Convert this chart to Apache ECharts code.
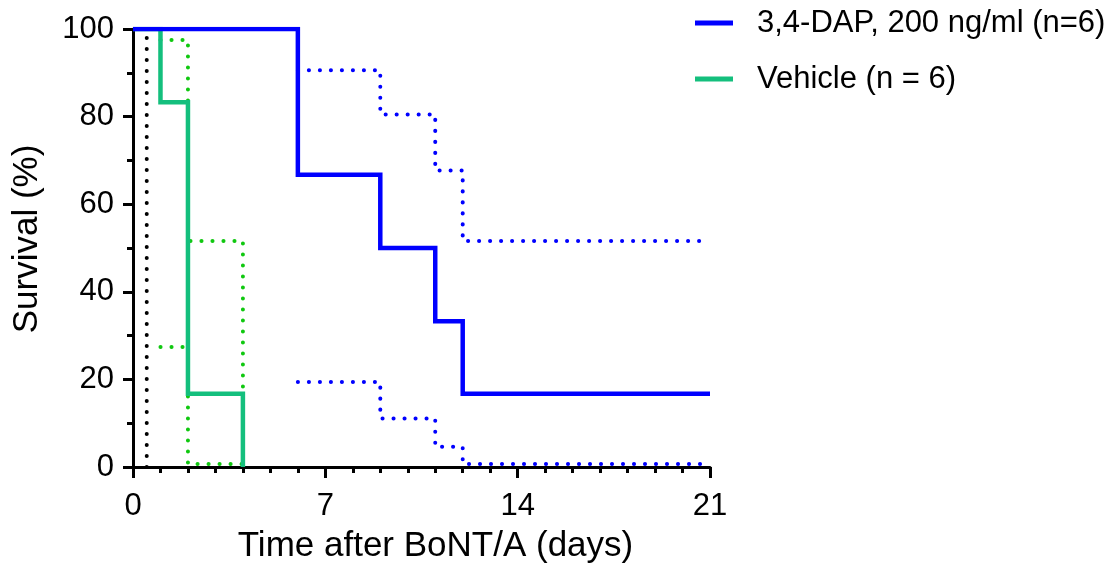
<!DOCTYPE html>
<html>
<head>
<meta charset="utf-8">
<script src="https://cdn.jsdelivr.net/npm/echarts@6/dist/echarts.min.js"></script>
<style>
  html, body { margin: 0; padding: 0; background: #fff; }
  #chart { width: 1112px; height: 580px; }
</style>
</head>
<body>
<div id="chart"></div>
<script>
// Kaplan–Meier survival after BoNT/A exposure
const xTicks = [0, 7, 14, 21];
const yTicks = [0, 20, 40, 60, 80, 100];

const seriesNames = ['3,4-DAP, 200 ng/ml (n=6)', 'Vehicle (n = 6)'];

// 3,4-DAP group: step times (days) and survival (%)
const dapDays = [0, 6, 9, 11, 12, 21];
const dapSurvival = [100, 66.7, 50, 33.3, 16.7, 16.7];
// 95% confidence band of the 3,4-DAP curve
const dapCiDays = [6, 9, 11, 12, 21];
const dapUpper = [90.6, 80.5, 67.7, 51.6, 51.6];
const dapLower = [19.4, 11.1, 4.6, 0.7, 0.7];

// Vehicle group
const vehDays = [0, 1, 2, 4];
const vehSurvival = [100, 83.3, 16.7, 0];
const vehCiDays = [1, 2, 4];
const vehUpper = [97.5, 51.6, 0];
const vehLower = [27.4, 0.7, 0.7];

// Time of BoNT/A challenge reference line
const challengeDay = 0.5;

const pairs = (xs, ys) => xs.map((x, i) => [x, ys[i]]);

const BLUE = '#0000ff';
const GREEN = '#14bf7d';
const GREEN_DOT = '#10c810';
const FONT = 'Liberation Sans, Arial, sans-serif';

const dotted = (color) => ({
  color: color, width: 4, type: [0.1, 10.9], cap: 'round'
});

const chart = echarts.init(document.getElementById('chart'), null, { renderer: 'canvas' });

chart.setOption({
  animation: false,
  backgroundColor: '#fff',
  grid: { left: 133, right: 402, top: 29, bottom: 113, containLabel: false },
  legend: {
    data: seriesNames,
    orient: 'vertical',
    left: 695,
    top: 7,
    padding: 0,
    icon: 'rect',
    itemWidth: 38,
    itemHeight: 5,
    itemGap: 24,
    textStyle: {
      fontFamily: FONT, fontSize: 31, color: '#000',
      lineHeight: 32, padding: [0, 0, 0, 19]
    }
  },
  xAxis: {
    type: 'value',
    min: 0, max: 21, interval: 7,
    name: 'Time after BoNT/A (days)',
    nameLocation: 'middle',
    nameGap: 62,
    nameTextStyle: { fontFamily: FONT, fontSize: 35, color: '#000', padding: [0, 0, 0, 28] },
    axisLine: { lineStyle: { color: '#000', width: 3 } },
    axisTick: { length: 11, lineStyle: { color: '#000', width: 3 } },
    minorTick: { show: true, splitNumber: 7, length: 6, lineStyle: { color: '#000', width: 3 } },
    axisLabel: {
      fontFamily: FONT, fontSize: 31, color: '#000', margin: 24,
      formatter: (v) => (xTicks.includes(v) ? String(v) : '')
    },
    splitLine: { show: false }
  },
  yAxis: {
    type: 'value',
    min: 0, max: 100, interval: 20,
    name: 'Survival (%)',
    nameLocation: 'middle',
    nameGap: 88,
    nameTextStyle: { fontFamily: FONT, fontSize: 35, color: '#000', padding: [0, 0, 0, 18] },
    axisLine: { show: true, lineStyle: { color: '#000', width: 3 } },
    axisTick: { show: true, length: 10, lineStyle: { color: '#000', width: 3 } },
    minorTick: { show: true, splitNumber: 2, length: 6, lineStyle: { color: '#000', width: 3 } },
    axisLabel: {
      fontFamily: FONT, fontSize: 31, color: '#000', margin: 19,
      formatter: (v) => (yTicks.includes(v) ? String(v) : '')
    },
    splitLine: { show: false }
  },
  series: [
    {
      name: 'challenge', type: 'line', silent: true, symbol: 'none', z: 1,
      data: [[challengeDay, 0], [challengeDay, 100]],
      lineStyle: dotted('#000')
    },
    {
      name: 'dap-upper', type: 'line', step: 'end', symbol: 'none', z: 2,
      data: pairs(dapCiDays, dapUpper), lineStyle: dotted(BLUE)
    },
    {
      name: 'dap-lower', type: 'line', step: 'end', symbol: 'none', z: 2,
      data: pairs(dapCiDays, dapLower), lineStyle: dotted(BLUE)
    },
    {
      name: 'veh-upper', type: 'line', step: 'end', symbol: 'none', z: 2,
      data: pairs(vehCiDays, vehUpper), lineStyle: dotted(GREEN_DOT)
    },
    {
      name: 'veh-lower', type: 'line', step: 'end', symbol: 'none', z: 2,
      data: pairs(vehCiDays, vehLower), lineStyle: dotted(GREEN_DOT)
    },
    {
      name: seriesNames[1], type: 'line', step: 'end', symbol: 'none', z: 3,
      data: pairs(vehDays, vehSurvival),
      itemStyle: { color: GREEN },
      lineStyle: { color: GREEN, width: 4.5, join: 'miter' }
    },
    {
      name: seriesNames[0], type: 'line', step: 'end', symbol: 'none', z: 4,
      data: pairs(dapDays, dapSurvival),
      itemStyle: { color: BLUE },
      lineStyle: { color: BLUE, width: 4.5, join: 'miter' }
    }
  ]
});
</script>
</body>
</html>
